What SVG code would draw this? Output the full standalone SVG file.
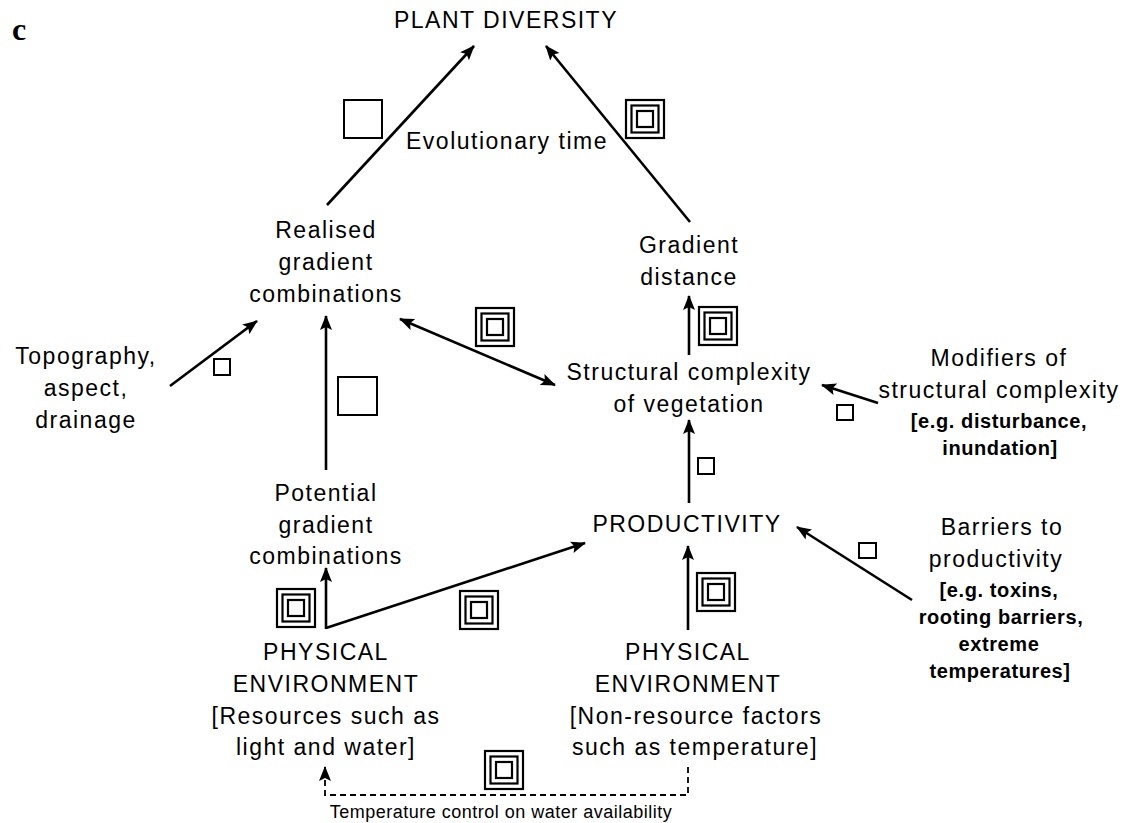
<svg xmlns="http://www.w3.org/2000/svg" xmlns:xlink="http://www.w3.org/1999/xlink" width="1126" height="823" viewBox="0 0 1126 823">
<style>
text{font-family:"Liberation Sans",Arial,sans-serif;fill:#000;text-anchor:middle}
.t{font-size:23px;letter-spacing:1.5px}
.b{font-size:20px;font-weight:bold;letter-spacing:0.6px}
.s{font-size:18px;letter-spacing:0.5px}
.c{font-family:"Liberation Serif",serif;font-size:32px;font-weight:bold;text-anchor:start}
.ln{stroke:#000;stroke-width:2.6;fill:none}
.ar{marker-end:url(#ah)}
.dash{stroke:#000;stroke-width:1.8;fill:none;stroke-dasharray:6 4}
.sq{fill:none;stroke:#000;stroke-width:2}
</style>
<defs>
<marker id="ah" markerUnits="userSpaceOnUse" markerWidth="16" markerHeight="14" refX="14" refY="6" orient="auto-start-reverse">
<path d="M0,0 L15,6 L0,12 L3,6 z" fill="#000"/>
</marker>
<g id="tri">
<rect x="1" y="1" width="38" height="38" fill="#fff" stroke="#000" stroke-width="2.2"/>
<rect x="6.5" y="6.5" width="27" height="27" fill="none" stroke="#000" stroke-width="2.2"/>
<rect x="12" y="12" width="16" height="16" fill="none" stroke="#000" stroke-width="2.2"/>
</g>
</defs>
<rect width="1126" height="823" fill="#fff"/>
<text class="c" x="12" y="40">c</text>

<g id="connectors">
<line class="ln ar" x1="327" y1="205" x2="474" y2="46"/>
<line class="ln ar" x1="690" y1="222" x2="546" y2="46"/>
<line class="ln ar" x1="170" y1="386" x2="257" y2="321"/>
<line class="ln ar" x1="326" y1="470" x2="326" y2="316"/>
<line class="ln ar" x1="400" y1="319" x2="555" y2="385" style="marker-start:url(#ah)"/>
<line class="ln ar" x1="689" y1="355" x2="689" y2="296"/>
<line class="ln ar" x1="689" y1="503" x2="689" y2="420"/>
<line class="ln ar" x1="878" y1="403" x2="822" y2="385"/>
<line class="ln ar" x1="912" y1="600" x2="797" y2="527"/>
<line class="ln ar" x1="326" y1="629" x2="326" y2="568"/>
<line class="ln ar" x1="326" y1="628" x2="585" y2="543"/>
<line class="ln ar" x1="688" y1="630" x2="688" y2="546"/>
<polyline class="dash" points="688,767 688,795 325,795 325,776"/>
<line class="ln ar" x1="325" y1="778" x2="325" y2="767" style="stroke-width:2"/>
</g>

<g id="weights">
<rect class="sq" x="344" y="100" width="38" height="38"/>
<use xlink:href="#tri" x="625" y="99"/>
<use xlink:href="#tri" x="475" y="307"/>
<use xlink:href="#tri" x="698" y="306"/>
<rect class="sq" x="338" y="377" width="39" height="38"/>
<rect class="sq" x="214" y="359" width="16" height="16"/>
<rect class="sq" x="837" y="405" width="16" height="15"/>
<rect class="sq" x="698" y="458" width="16" height="16"/>
<rect class="sq" x="859" y="543" width="17" height="15"/>
<use xlink:href="#tri" x="276" y="588"/>
<use xlink:href="#tri" x="459" y="590"/>
<use xlink:href="#tri" x="696" y="572"/>
<use xlink:href="#tri" x="484" y="750"/>
</g>

<g id="n-plant"><text class="t" x="506" y="28">PLANT DIVERSITY</text></g>
<g id="n-evo"><text class="t" x="507" y="149">Evolutionary time</text></g>
<g id="n-realised"><text class="t" x="326" y="238">Realised</text><text class="t" x="326" y="270">gradient</text><text class="t" x="326" y="302">combinations</text></g>
<g id="n-gradient"><text class="t" x="689" y="253">Gradient</text><text class="t" x="689" y="285">distance</text></g>
<g id="n-topo"><text class="t" x="86" y="364">Topography,</text><text class="t" x="86" y="396">aspect,</text><text class="t" x="86" y="428">drainage</text></g>
<g id="n-struct"><text class="t" x="689" y="380">Structural complexity</text><text class="t" x="689" y="412">of vegetation</text></g>
<g id="n-modif"><text class="t" x="999" y="366">Modifiers of</text><text class="t" x="999" y="398">structural complexity</text><text class="b" x="999" y="428">[e.g. disturbance,</text><text class="b" x="1000" y="455">inundation]</text></g>
<g id="n-potential"><text class="t" x="326" y="501">Potential</text><text class="t" x="326" y="533">gradient</text><text class="t" x="326" y="564">combinations</text></g>
<g id="n-prod"><text class="t" x="687" y="532">PRODUCTIVITY</text></g>
<g id="n-barriers"><text class="t" x="1002" y="535">Barriers to</text><text class="t" x="996" y="567">productivity</text><text class="b" x="999" y="597">[e.g. toxins,</text><text class="b" x="1001" y="624">rooting barriers,</text><text class="b" x="999" y="651">extreme</text><text class="b" x="1000" y="678">temperatures]</text></g>
<g id="n-phys1"><text class="t" x="326" y="660">PHYSICAL</text><text class="t" x="326" y="692">ENVIRONMENT</text><text class="t" x="326" y="724">[Resources such as</text><text class="t" x="326" y="755">light and water]</text></g>
<g id="n-phys2"><text class="t" x="688" y="660">PHYSICAL</text><text class="t" x="688" y="692">ENVIRONMENT</text><text class="t" x="696" y="724">[Non-resource factors</text><text class="t" x="695" y="755">such as temperature]</text></g>
<g id="n-temp"><text class="s" x="501" y="818">Temperature control on water availability</text></g>
</svg>
